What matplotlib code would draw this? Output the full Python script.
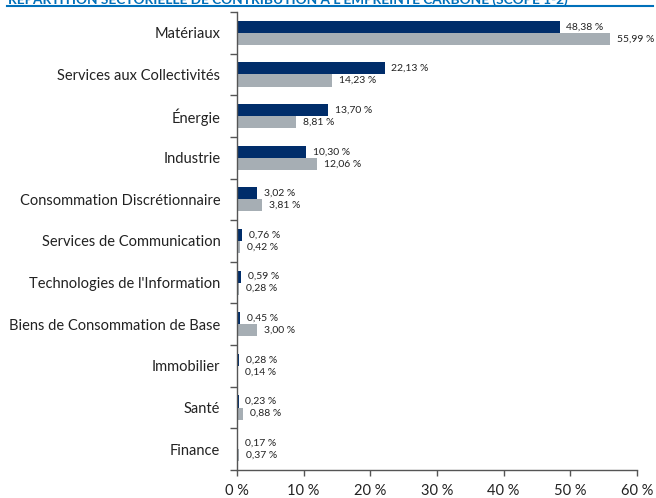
import matplotlib
matplotlib.use("Agg")
import matplotlib.pyplot as plt
import numpy as np
from matplotlib.ticker import FixedLocator, FuncFormatter

plt.rcParams['font.family'] = ['Lato', 'DejaVu Sans']

categories = ["Matériaux", "Services aux Collectivités", "Énergie", "Industrie",
              "Consommation Discrétionnaire", "Services de Communication",
              "Technologies de l'Information", "Biens de Consommation de Base",
              "Immobilier", "Santé", "Finance"]
fund = [48.38, 22.13, 13.70, 10.30, 3.02, 0.76, 0.59, 0.45, 0.28, 0.23, 0.17]
index = [55.99, 14.23, 8.81, 12.06, 3.81, 0.42, 0.28, 3.00, 0.14, 0.88, 0.37]
xticks = [0, 10, 20, 30, 40, 50, 60]
title = "RÉPARTITION SECTORIELLE DE CONTRIBUTION À L'EMPREINTE CARBONE (SCOPE 1-2)"

dark = "#002D6A"
grey = "#A6AEB4"
blue = "#0070BA"

fig = plt.figure(figsize=(6.56, 4.98), dpi=100)
ax = fig.add_axes([237/656, 1-470/498, 400/656, 458/498])

y = np.arange(len(categories))
h = 0.29
ax.barh(y - h/2, fund, height=h, color=dark)
ax.barh(y + h/2, index, height=h, color=grey)

def fmt(v):
    return f"{v:.2f}".replace(".", ",") + " %"

for yi, a, b in zip(y, fund, index):
    ax.annotate(fmt(a), (a, yi - h/2), xytext=(5, 0), textcoords="offset points",
                va="center", ha="left", fontsize=7.5, color="#222222")
    ax.annotate(fmt(b), (b, yi + h/2), xytext=(5, 0), textcoords="offset points",
                va="center", ha="left", fontsize=7.5, color="#222222")

ax.set_xlim(0, 60)
ax.set_ylim(len(categories) - 0.5, -0.5)
ax.set_xticks(xticks)
ax.xaxis.set_major_formatter(FuncFormatter(lambda v, p: f"{int(v)} %"))
ax.set_yticks(y)
ax.set_yticklabels(categories)
ax.yaxis.set_minor_locator(FixedLocator(np.arange(-0.5, len(categories), 1.0)))
ax.tick_params(axis="y", which="major", length=0, labelsize=10.5, pad=12, colors="#222222")
ax.tick_params(axis="y", which="minor", length=5, width=1, color="#555555")
ax.tick_params(axis="x", which="major", length=4, width=1, labelsize=10.5, pad=6, color="#555555", labelcolor="#222222")
for s in ["top", "right"]:
    ax.spines[s].set_visible(False)
for s in ["left", "bottom"]:
    ax.spines[s].set_color("#555555")
    ax.spines[s].set_linewidth(1)

fig.add_artist(plt.Line2D([0.01, 0.995], [1-6.5/498, 1-6.5/498], color=blue, lw=1.5))
fig.text(0.012, 1-3.5/498, title, color=blue, fontsize=9.8, fontweight="bold", va="baseline", ha="left")

fig.savefig("out.png", dpi=100)
